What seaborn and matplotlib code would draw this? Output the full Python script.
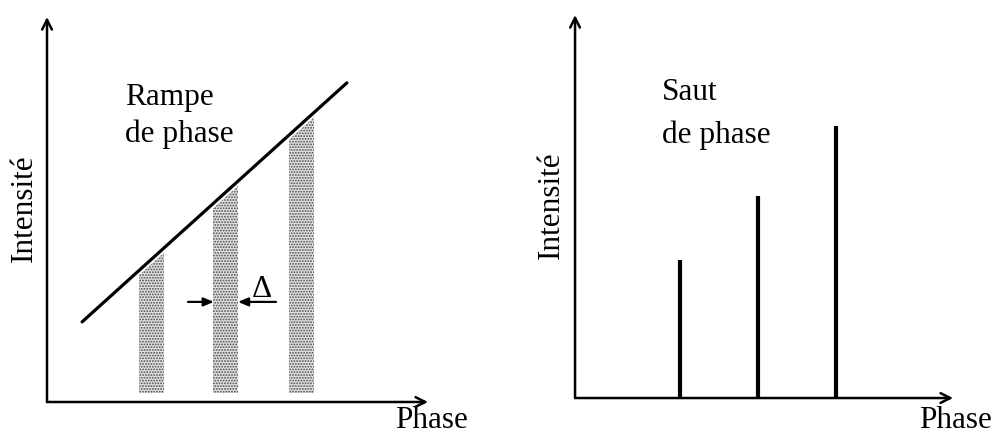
import matplotlib
matplotlib.use("Agg")
import matplotlib.pyplot as plt
from matplotlib.patches import Polygon
import seaborn as sns

# Data (arbitrary units)
ramp_phase = [0.92, 7.87]
ramp_intensity = [2.08, 8.29]
bar_phase = [2.74, 4.69, 6.69]
bar_top = [3.90, 5.70, 7.50]
bar_bottom = 0.23
bar_width = 0.66

jump_phase = [2.78, 4.84, 6.90]
jump_intensity = [3.60, 5.27, 7.10]

delta_left = [3.70, 4.38]
delta_right = [6.01, 5.01]
delta_y = 2.60

sns.set_style("white")
plt.rcParams['font.family'] = ['Liberation Serif', 'DejaVu Serif']
plt.rcParams['hatch.linewidth'] = 0.9
FS = 22.5

fig = plt.figure(figsize=(9.98, 4.37), dpi=100)
ax1 = fig.add_axes([0.0471, 0.0801, 0.3818, 0.881])
ax2 = fig.add_axes([0.5762, 0.0892, 0.3788, 0.8764])


def draw_axes(ax, xlab, ylab):
    ax.set_xlim(0, 10)
    ax.set_ylim(0, 10)
    for s in ax.spines.values():
        s.set_visible(False)
    ax.set_xticks([])
    ax.set_yticks([])
    arrow = dict(arrowstyle="->,head_length=0.7,head_width=0.35", lw=1.8,
                 color="black", shrinkA=0, shrinkB=0)
    ax.annotate("", xy=(1, 0), xytext=(0, 0), xycoords="axes fraction",
                arrowprops=arrow, annotation_clip=False)
    ax.annotate("", xy=(0, 1), xytext=(0, 0), xycoords="axes fraction",
                arrowprops=arrow, annotation_clip=False)
    fig.text(xlab[0], xlab[1], "Phase", ha="center", va="bottom",
             fontsize=FS, color="black")
    fig.text(ylab[0], ylab[1], "Intensité", ha="center", va="center",
             rotation=90, fontsize=FS, color="black")


# Left: phase ramp
draw_axes(ax1, (432 / 998, 1 - 435 / 437), (24 / 998, 1 - 208 / 437))
heights = [t - bar_bottom for t in bar_top]
bars = ax1.bar(bar_phase, heights, width=bar_width, bottom=bar_bottom,
               facecolor="#e2e2e2", edgecolor="#4a4a4a", hatch="......", lw=0)
# bars stop just under the ramp line
gap = 0.12
clip = Polygon([(ramp_phase[0], ramp_intensity[0] - gap),
                (ramp_phase[1], ramp_intensity[1] - gap),
                (ramp_phase[1], 0), (ramp_phase[0], 0)],
               closed=True, transform=ax1.transData)
for b in bars:
    b.set_clip_path(clip)
sns.lineplot(x=ramp_phase, y=ramp_intensity, ax=ax1, color="black", lw=2.3)
ax1.text(2.05, 7.71, "Rampe", fontsize=FS, va="baseline", color="black")
ax1.text(2.05, 6.75, "de phase", fontsize=FS, va="baseline", color="black")

small = dict(arrowstyle="-|>,head_length=0.6,head_width=0.25", lw=1.6,
             color="black", shrinkA=0, shrinkB=0)
ax1.annotate("", xy=(delta_left[1], delta_y), xytext=(delta_left[0], delta_y),
             arrowprops=small)
ax1.annotate("", xy=(delta_right[1], delta_y), xytext=(delta_right[0], delta_y),
             arrowprops=small)
ax1.text(5.64, 2.73, "Δ", fontsize=FS, ha="center", va="baseline",
         color="black")

# Right: phase jump
draw_axes(ax2, (956 / 998, 1 - 435 / 437), (551 / 998, 1 - 205 / 437))
ax2.vlines(jump_phase, 0, jump_intensity, color="black", lw=3)
ax2.text(2.30, 7.78, "Saut", fontsize=FS, va="baseline", color="black")
ax2.text(2.30, 6.66, "de phase", fontsize=FS, va="baseline", color="black")

fig.savefig("out.png", dpi=100)
